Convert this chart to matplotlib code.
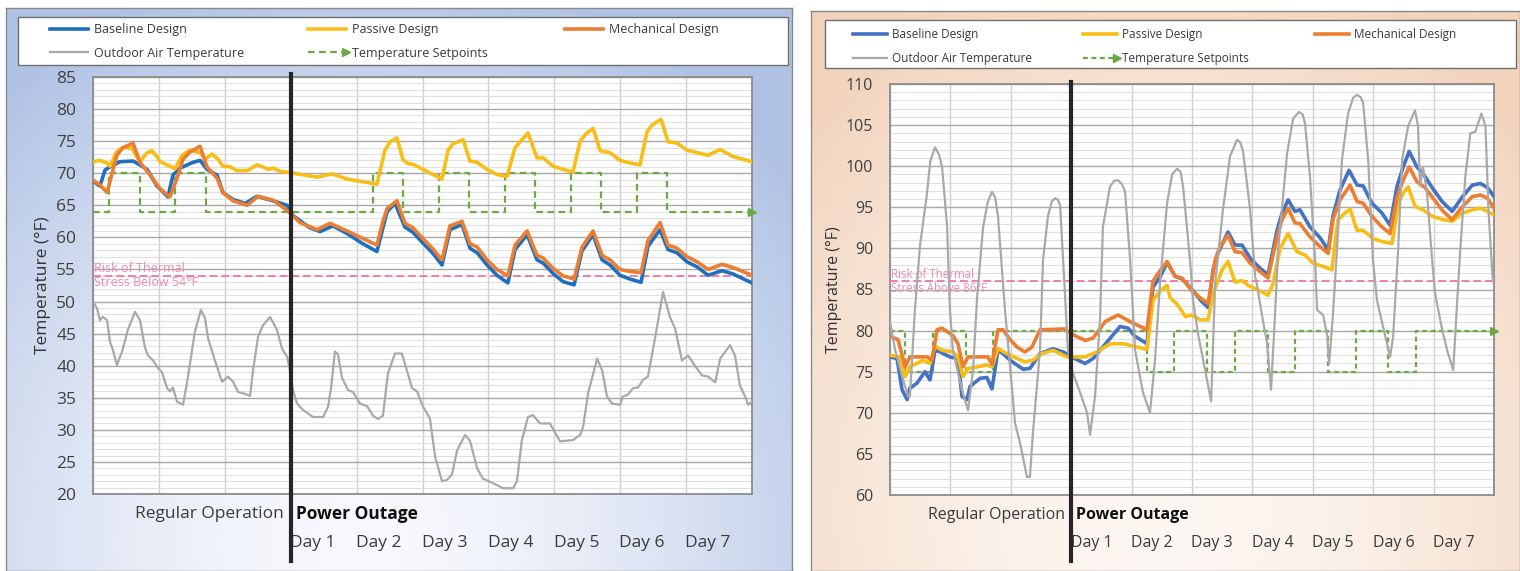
import numpy as np
import matplotlib.pyplot as plt
from matplotlib.patches import Rectangle
from matplotlib.legend_handler import HandlerLine2D

plt.rcParams['font.family'] = ['Open Sans', 'DejaVu Sans']

W, H = 1520, 571

DAY_LABELS = ["Day 1", "Day 2", "Day 3", "Day 4", "Day 5", "Day 6", "Day 7"]
SERIES_NAMES = ["Baseline Design", "Passive Design", "Mechanical Design",
                "Outdoor Air Temperature", "Temperature Setpoints"]

# setpoint schedule (hour where each step starts)
SETPOINT_HOURS = [0, 6, 17, 30, 41, 102, 113, 126, 137, 150, 161, 174, 185, 198, 209, 240]
WINTER_SETPOINT = [64, 70, 64, 70, 64, 70, 64, 70, 64, 70, 64, 70, 64, 70, 64, 64]
SUMMER_SETPOINT = [80, 75, 80, 75, 80, 75, 80, 75, 80, 75, 80, 75, 80, 75, 80, 80]

# ---- winter (left) ----
W_BASE_H = [0, 2.5, 4.4, 6.2, 9.8, 14.6, 17.1, 19.7, 23.3, 27.3, 29.1, 31.7, 36.4, 39.0, 41.5,
            45.2, 47.3, 51.0, 55.4, 59.7, 65.6, 70.7, 72.8, 79.0, 82.7, 87.4, 92.5, 98.3, 103.4,
            105.6, 107.1, 110.0, 113.6, 116.5, 120.2, 123.8, 127.1, 130.0, 134.4, 137.3, 139.9,
            143.5, 147.1, 151.1, 153.7, 158.1, 161.7, 163.9, 167.5, 171.2, 175.2, 178.1, 182.1,
            185.4, 188.3, 191.9, 195.6, 199.6, 202.1, 206.5, 209.4, 212.7, 216.3, 220.0, 224.0,
            229.1, 233.1, 240.0]
W_BASE_T = [68.8, 68.0, 70.5, 71.0, 71.8, 71.9, 71.3, 70.6, 68.0, 66.3, 69.7, 70.8, 71.7, 72.0, 70.6,
            69.7, 67.0, 65.9, 65.3, 66.4, 65.7, 65.0, 63.4, 61.5, 60.9, 61.8, 60.6, 59.0, 57.8,
            61.5, 64.0, 65.3, 61.6, 60.8, 59.1, 57.5, 55.7, 61.2, 62.0, 58.3, 57.6,
            55.7, 54.1, 52.9, 58.1, 60.4, 56.5, 56.0, 54.4, 53.1, 52.6, 57.9, 60.4,
            56.5, 55.7, 54.1, 53.5, 53.0, 58.6, 61.2, 58.1, 57.6, 56.2, 55.4, 54.1,
            54.8, 54.3, 52.9]

W_PASS_H = [0, 2.5, 5.1, 6.2, 8.7, 10.9, 14.2, 16.0, 17.1, 19.7, 21.5, 23.3, 24.4, 27.0, 29.9,
            32.4, 35.3, 39.0, 40.8, 43.3, 45.5, 47.3, 49.9, 52.4, 56.1, 59.7, 61.9, 63.7, 65.6,
            68.1, 71.7, 81.6, 87.0, 92.5, 103.4, 106.3, 108.2, 110.7, 112.9, 114.7, 116.5, 120.2,
            123.8, 127.1, 129.3, 131.1, 134.8, 137.3, 139.9, 143.5, 147.1, 150.8, 153.7, 156.2,
            158.4, 161.7, 163.9, 167.5, 171.2, 174.8, 177.4, 179.2, 182.1, 184.7, 188.3, 191.9,
            195.6, 199.2, 201.8, 203.6, 206.9, 209.4, 212.7, 216.3, 220.0, 224.0, 228.4, 233.1,
            240.0]
W_PASS_T = [71.8, 72.0, 71.6, 71.1, 73.4, 74.0, 73.9, 72.5, 71.8, 73.2, 73.5, 72.6, 71.8, 71.3, 70.7,
            72.8, 73.6, 73.2, 72.2, 73.0, 72.2, 71.1, 71.0, 70.4, 70.4, 71.3, 71.0, 70.6, 70.8,
            70.3, 70.1, 69.4, 69.9, 69.1, 68.3, 73.6, 74.9, 75.5, 72.1, 71.5, 71.4, 70.6,
            69.8, 69.1, 73.6, 74.6, 75.2, 71.9, 71.7, 70.6, 69.8, 69.5, 74.0, 75.2,
            76.3, 72.4, 72.4, 71.1, 70.6, 70.2, 75.0, 76.0, 77.0, 73.5, 73.2, 72.0,
            71.6, 71.3, 76.5, 77.5, 78.4, 74.9, 74.7, 73.6, 73.2, 72.8, 73.7, 72.6,
            71.8]

W_MECH_H = [0, 2.5, 5.1, 8.7, 10.9, 14.6, 17.1, 20.8, 24.4, 28.0, 30.6, 32.8, 35.3, 39.0, 41.5,
            45.2, 47.3, 51.0, 56.1, 60.1, 65.6, 70.7, 75.4, 81.6, 86.3, 92.5, 103.4, 105.6, 107.1,
            110.7, 113.6, 116.5, 120.2, 123.8, 127.1, 130.0, 134.4, 137.3, 139.9, 143.5, 147.1,
            151.1, 153.7, 158.1, 161.7, 163.9, 167.5, 171.2, 175.2, 178.1, 182.1, 185.4, 188.3,
            191.9, 195.6, 199.6, 202.1, 206.5, 209.4, 212.7, 216.3, 220.0, 224.0, 229.1, 233.1,
            240.0]
W_MECH_T = [68.9, 68.2, 67.0, 72.8, 74.0, 74.7, 71.7, 69.7, 67.6, 66.3, 69.2, 72.2, 73.3, 74.2, 71.0,
            69.2, 67.0, 65.7, 65.0, 66.4, 65.8, 64.2, 62.3, 61.2, 62.2, 61.0, 58.8, 62.5, 64.5,
            65.7, 62.2, 61.5, 59.8, 58.2, 56.5, 61.8, 62.5, 59.0, 58.5, 56.5, 55.0,
            54.0, 58.8, 61.0, 57.2, 56.8, 55.2, 54.0, 53.5, 58.5, 61.0, 57.2, 56.5,
            55.0, 54.7, 54.5, 59.5, 62.3, 58.8, 58.3, 57.0, 56.2, 55.0, 55.8, 55.3,
            54.1]

W_OUT_H = [0.4, 1.5, 2.5, 3.6, 5.1, 6.2, 7.3, 8.7, 10.6, 12.7, 15.3, 17.1, 18.9, 20.0, 21.9, 23.7,
           25.1, 27.0, 28.0, 29.1, 30.6, 32.8, 34.6, 37.1, 39.3, 40.8, 41.9, 44.4, 47.0, 49.2,
           51.0, 52.8, 55.4, 57.2, 58.3, 60.1, 61.9, 64.5, 67.0, 68.8, 70.7, 71.7, 72.8, 74.3,
           76.5, 80.1, 83.8, 85.6, 86.7, 88.1, 89.2, 90.7, 92.9, 94.7, 97.2, 99.8, 102.0, 103.8,
           105.6, 107.4, 110.0, 112.5, 116.2, 118.0, 120.2, 122.7, 124.6, 127.1, 128.9, 130.7,
           132.6, 135.5, 137.3, 139.9, 142.0, 144.6, 147.1, 149.3, 153.0, 154.4, 156.2, 158.4,
           160.2, 162.8, 166.4, 170.1, 174.8, 177.4, 178.5, 180.3, 183.6, 185.4, 187.2, 189.0,
           191.9, 193.0, 194.8, 196.7, 198.5, 200.3, 202.1, 204.7, 207.6, 210.1, 212.0, 214.5,
           216.7, 219.2, 221.8, 224.0, 226.6, 228.4, 232.0, 233.8, 235.6, 237.5, 238.6, 240.0]
W_OUT_T = [49.7, 48.9, 47.1, 47.6, 47.1, 43.7, 42.4, 40.1, 42.2, 45.6, 48.4, 47.1, 42.9, 41.6, 40.8, 39.6,
           39.0, 36.5, 36.0, 36.6, 34.4, 33.9, 38.3, 45.3, 48.7, 47.4, 44.3, 40.8, 37.5, 38.3,
           37.5, 35.9, 35.6, 35.3, 39.3, 44.5, 46.3, 47.6, 45.6, 42.7, 41.4, 39.3, 36.2, 34.1,
           33.1, 32.0, 32.0, 33.6, 36.5, 42.2, 41.8, 38.1, 36.2, 35.9, 34.1, 33.7, 32.2, 31.7,
           32.2, 38.8, 41.9, 41.9, 36.5, 36.0, 33.6, 31.8, 25.8, 22.0, 22.2, 23.0,
           26.8, 29.2, 28.3, 24.0, 22.4, 21.9, 21.4, 20.9, 20.9, 22.0, 28.4, 32.0,
           32.3, 31.0, 31.0, 28.2, 28.4, 29.2, 30.5, 35.7, 41.1, 39.3, 35.2, 34.1,
           33.9, 35.2, 35.5, 36.5, 36.6, 37.8, 38.3, 44.3, 51.5, 47.6, 45.8, 40.8,
           41.6, 40.0, 38.5, 38.3, 37.4, 41.1, 43.2, 41.6, 36.9, 35.2, 33.9, 34.4]

# ---- summer (right) ----
S_BASE_H = [0, 2.8, 4.8, 6.8, 7.9, 10.7, 13.9, 15.9, 17.9, 19.9, 23.8, 27.0, 28.6, 30.6, 31.8,
            35.8, 38.5, 40.5, 42.9, 44.9, 47.7, 50.5, 52.9, 55.6, 59.6, 64.8, 68.8, 72.7, 77.5,
            80.7, 86.2, 91.4, 94.6, 97.4, 102.1, 104.5, 107.3, 110.1, 113.3, 116.0, 120.0, 124.0,
            126.4, 128.4, 130.3, 134.3, 137.1, 139.9, 143.1, 147.0, 150.2, 153.8, 155.8, 158.2,
            160.9, 162.9, 166.9, 170.9, 174.1, 176.0, 178.8, 182.4, 185.6, 188.0, 191.5, 195.5,
            198.7, 201.5, 203.9, 206.3, 209.4, 211.8, 215.4, 219.4, 223.4, 227.5, 231.4, 234.6,
            237.4, 240.0]
S_BASE_T = [76.8, 76.6, 72.8, 71.6, 73.0, 73.6, 75.0, 74.0, 77.6, 77.4, 76.8, 76.6, 72.0, 71.6, 73.2,
            74.2, 74.3, 72.9, 77.6, 77.2, 76.4, 75.8, 75.3, 75.4, 77.2, 77.8, 77.4, 76.7, 76.0,
            76.6, 78.6, 80.5, 80.3, 79.3, 78.4, 85.3, 86.5, 88.3, 86.6, 86.3, 85.0, 83.5,
            82.8, 87.4, 89.4, 92.0, 90.4, 90.4, 88.8, 87.6, 86.8, 92.2, 94.3, 95.9,
            94.5, 94.7, 92.6, 91.3, 89.8, 93.9, 97.1, 99.5, 97.7, 97.6, 95.5, 94.3,
            92.8, 97.6, 99.9, 101.8, 99.9, 99.1, 97.4, 95.7, 94.5, 96.3, 97.7, 97.9,
            97.4, 96.3]

S_PASS_H = [0, 4.0, 6.0, 7.9, 13.1, 15.9, 17.9, 20.7, 25.0, 27.0, 29.0, 31.0, 38.5, 40.5, 42.9,
            46.5, 50.5, 53.6, 56.8, 60.4, 64.8, 70.3, 77.5, 82.3, 87.4, 92.6, 98.2, 102.1, 104.5,
            107.3, 110.1, 111.3, 114.1, 117.4, 120.0, 123.2, 126.4, 128.4, 132.0, 134.3, 137.1,
            139.9, 142.3, 145.1, 147.8, 150.2, 152.2, 155.0, 158.2, 161.7, 164.9, 168.1, 172.1,
            175.6, 178.0, 180.8, 182.8, 185.6, 188.0, 191.9, 195.9, 199.5, 201.9, 203.9, 205.9,
            208.6, 211.8, 215.4, 219.8, 223.4, 227.5, 231.4, 234.6, 237.4, 240.0]
S_PASS_T = [77.0, 76.8, 74.4, 75.6, 76.4, 76.0, 78.1, 77.6, 77.4, 76.8, 74.4, 75.4, 75.8, 75.6, 77.8,
            77.2, 76.6, 76.2, 76.4, 77.2, 77.6, 76.8, 76.8, 77.4, 78.4, 78.4, 78.0, 77.7, 83.7,
            84.8, 85.5, 84.0, 83.2, 81.7, 81.9, 81.3, 81.3, 84.5, 87.4, 88.4, 85.9,
            86.1, 85.5, 85.1, 84.7, 84.3, 85.7, 90.0, 91.8, 89.6, 89.2, 88.2, 87.8,
            87.4, 93.5, 94.3, 94.8, 92.2, 92.2, 91.2, 90.8, 90.6, 95.5, 96.7, 97.5,
            95.1, 94.7, 93.9, 93.5, 93.3, 94.3, 94.7, 94.9, 94.5, 94.1]

S_MECH_H = [0, 3.2, 6.0, 7.9, 14.7, 16.7, 18.7, 20.7, 25.0, 27.0, 29.0, 31.0, 38.9, 40.5, 42.9,
            44.9, 47.7, 50.5, 53.6, 56.4, 59.6, 69.5, 72.7, 77.5, 80.7, 85.5, 90.6, 95.4, 102.1,
            104.5, 107.3, 110.1, 113.3, 116.0, 120.0, 123.2, 126.4, 129.2, 131.1, 134.3, 137.1,
            139.9, 143.1, 147.0, 150.2, 153.8, 155.8, 158.2, 160.9, 162.9, 166.9, 170.9, 174.1,
            176.0, 178.8, 182.8, 185.6, 188.0, 191.5, 195.5, 198.7, 201.5, 203.9, 206.3, 209.4,
            212.6, 215.8, 219.8, 223.4, 227.5, 231.4, 234.6, 237.4, 240.0]
S_MECH_T = [79.3, 78.9, 75.6, 76.8, 76.8, 76.4, 80.1, 80.3, 79.4, 78.4, 75.6, 76.8, 76.8, 75.9, 80.1,
            80.1, 78.9, 78.0, 77.4, 78.0, 80.1, 80.2, 79.5, 78.8, 79.1, 81.1, 81.9, 81.1, 80.1,
            86.0, 87.3, 88.4, 86.6, 86.4, 84.8, 84.0, 83.3, 88.6, 90.2, 91.6, 89.6,
            89.5, 88.2, 87.2, 86.4, 91.4, 93.5, 94.9, 93.1, 93.0, 91.4, 90.2, 89.4,
            93.5, 95.9, 97.7, 95.7, 95.5, 93.9, 92.6, 91.8, 96.3, 98.3, 99.9, 98.1,
            97.4, 96.1, 94.5, 93.5, 95.1, 96.3, 96.5, 96.1, 94.9]

S_OUT_H = [0, 2.0, 5.2, 7.2, 7.9, 9.9, 11.9, 14.7, 16.0, 17.9, 19.5, 20.7, 22.7, 23.8, 25.0, 28.6,
           31.0, 33.0, 34.6, 37.0, 38.8, 40.5, 41.8, 42.9, 45.7, 47.7, 49.7, 51.7, 54.4, 55.6,
           56.8, 59.6, 60.8, 62.8, 64.3, 65.6, 66.8, 67.6, 69.5, 70.7, 72.7, 75.5, 78.3, 79.5,
           81.5, 83.5, 84.6, 87.4, 89.0, 90.6, 92.2, 93.4, 95.4, 97.4, 100.5, 103.3, 105.3, 107.3,
           110.1, 112.1, 114.1, 115.5, 116.5, 119.2, 120.4, 122.4, 125.2, 127.6, 129.2, 132.3,
           135.1, 137.9, 139.2, 140.3, 143.1, 145.1, 145.9, 147.8, 149.8, 151.4, 153.0, 154.2,
           157.8, 160.2, 162.5, 164.0, 164.9, 166.9, 168.9, 169.7, 172.1, 173.7, 174.5, 176.0,
           177.6, 179.6, 182.0, 184.0, 185.6, 187.0, 188.0, 190.0, 191.9, 193.5, 195.9, 198.7,
           199.9, 201.9, 203.5, 205.9, 208.6, 209.8, 210.6, 211.8, 213.4, 215.4, 216.6, 219.4,
           221.4, 223.8, 225.4, 226.6, 228.6, 230.6, 232.6, 235.0, 236.6, 237.8, 239.4, 240.0]
S_OUT_T = [81.1, 77.7, 74.0, 72.0, 72.0, 82.5, 90.3, 96.7, 100.6, 102.3, 101.4, 99.9, 92.6, 82.5, 77.6,
           72.8, 70.3, 75.2, 84.0, 92.6, 95.6, 96.9, 96.2, 93.9, 82.5, 75.6, 68.7, 66.3, 62.2,
           62.2, 67.6, 77.6, 88.6, 94.0, 95.7, 96.1, 95.9, 95.2, 84.6, 77.6, 74.8, 72.5, 70.0,
           67.3, 72.1, 81.7, 92.6, 97.5, 98.2, 98.3, 97.8, 96.9, 88.6, 77.6, 72.5, 70.0, 76.4,
           85.8, 95.5, 99.0, 99.7, 99.3, 97.4, 88.6, 83.7, 79.6, 75.2, 71.4, 85.8, 94.7,
           101.2, 103.2, 102.9, 101.8, 94.7, 86.6, 85.4, 81.9, 78.5, 72.8, 82.0, 89.8,
           101.6, 105.8, 106.6, 106.3, 105.2, 98.7, 88.6, 82.5, 81.9, 79.4, 76.0, 81.9,
           89.8, 100.8, 106.4, 108.3, 108.7, 108.4, 107.7, 100.8, 88.6, 83.7, 80.5, 76.8,
           79.2, 89.8, 100.8, 104.9, 106.8, 104.9, 97.6, 99.9, 96.7, 88.6, 84.5, 80.1,
           77.6, 75.2, 83.7, 89.8, 98.7, 104.0, 104.2, 106.4, 104.9, 94.7, 86.6, 85.5]

fig = plt.figure(figsize=(W / 100, H / 100), dpi=100)


def fr(x, y, w, h):
    # pixel box (top-left origin) -> figure fraction rect
    return [x / W, 1 - (y + h) / H, w / W, h / H]


def backdrop(rect, centre, edge, cx, cy):
    ax = fig.add_axes(rect, zorder=-10)
    yy, xx = np.mgrid[0:1:240j, 0:1:320j]
    r = np.clip(np.hypot((xx - cx) / 0.7, (yy - cy) / 1.05), 0, 1) ** 1.6
    c0 = np.array(centre) / 255
    c1 = np.array(edge) / 255
    img = c0 * (1 - r[..., None]) + c1 * r[..., None]
    ax.imshow(img, extent=[0, 1, 0, 1], origin='lower', aspect='auto')
    ax.set_xticks([])
    ax.set_yticks([])
    for s in ax.spines.values():
        s.set_color('#8a8a8a')
        s.set_linewidth(1)


def legend_box(x, y, w, h):
    fig.add_artist(Rectangle((x / W, 1 - (y + h) / H), w / W, h / H, transform=fig.transFigure,
                             facecolor='white', edgecolor='#6f6f6f', lw=1.0, zorder=-5))


class EndArrow(HandlerLine2D):
    def create_artists(self, *args, **kwargs):
        arts = super().create_artists(*args, **kwargs)
        arts[0].set_markevery([-1])
        return arts


def panel(rect, ylim, base, passive, mech, outdoor, setpoint, risk, risk_text,
          blue, fs, small_fs, sp_dash, ylabel_pad):
    ax = fig.add_axes(rect)
    ax.set_facecolor('white')
    ax.set_xlim(0, 240)
    ax.set_ylim(*ylim)
    ax.set_xticks(np.arange(0, 241, 24))
    ax.set_yticks(np.arange(ylim[0], ylim[1] + 1, 5))
    ax.set_yticks(np.arange(ylim[0], ylim[1] + 1, 1), minor=True)
    ax.grid(axis='y', which='minor', color='#e0e0e0', lw=0.8)
    ax.grid(axis='y', which='major', color='#a8a8a8', lw=1.0)
    ax.grid(axis='x', which='major', color='#cfcfcf', lw=1.0)
    ax.set_axisbelow(True)
    ax.tick_params(which='both', length=0)
    ax.tick_params(axis='y', labelsize=fs, labelcolor='#404040', pad=12)
    ax.set_xticklabels([])
    for s in ax.spines.values():
        s.set_color('#8c8c8c')
        s.set_linewidth(1.3)
    ax.set_ylabel("Temperature (°F)", fontsize=fs, color='#333333', labelpad=ylabel_pad)

    sp, = ax.step(SETPOINT_HOURS, setpoint, where='post', color='#6aaa45', lw=1.6,
                  ls=sp_dash, marker='>', markevery=[-1], markersize=6, clip_on=False, zorder=3)
    ax.axhline(risk, color='#f07fa6', lw=1.4, ls=(0, (4, 2)), zorder=3)
    ax.text(0.5, risk, risk_text, color='#f08cab', fontsize=small_fs, ha='left', va='center',
            linespacing=1.1, zorder=4)
    lb, = ax.plot(*base, color=blue, lw=2.6, zorder=4, solid_joinstyle='round')
    lp, = ax.plot(*passive, color='#f8be16', lw=2.6, zorder=4, solid_joinstyle='round')
    lm, = ax.plot(*mech, color='#ed7d31', lw=2.6, zorder=4, solid_joinstyle='round')
    lo, = ax.plot(*outdoor, color='#a9a9a9', lw=1.6, zorder=5, solid_joinstyle='round')
    ax.axvline(72, ymin=-0.16, ymax=1.006, color='#262626', lw=3, clip_on=False, zorder=6)

    tr = ax.get_xaxis_transform()
    ax.text(69.5, -0.048, "Regular Operation", transform=tr, ha='right', va='center',
            fontsize=fs, color='#3a3a3a')
    ax.text(73.8, -0.048, "Power Outage", transform=tr, ha='left', va='center',
            fontsize=fs, fontweight='bold', color='#111111')
    for i, lab in enumerate(DAY_LABELS):
        ax.text(80 + 24 * i, -0.117, lab, transform=tr, ha='center', va='center',
                fontsize=fs, color='#3a3a3a')
    return [lb, lo, lp, sp, lm]


def legend(handles, col_x, top, fs, hl, pad, spacing):
    labels = [SERIES_NAMES[0], SERIES_NAMES[3], SERIES_NAMES[1], SERIES_NAMES[4], SERIES_NAMES[2]]
    groups = [[0, 1], [2, 3], [4]]
    for x, g in zip(col_x, groups):
        fig.legend([handles[i] for i in g], [labels[i] for i in g], loc='upper left',
                   bbox_to_anchor=(x / W, 1 - top / H), frameon=False, borderpad=0,
                   borderaxespad=0, fontsize=fs, handlelength=hl, handletextpad=pad,
                   labelspacing=spacing, labelcolor='#3a3a3a',
                   handler_map={handles[3]: EndArrow()})


backdrop(fr(6, 8, 786, 563), (248, 249, 253), (176, 194, 228), 0.45, 0.05)
backdrop(fr(811, 11, 709, 560), (253, 247, 242), (242, 211, 188), 0.5, 0.1)
legend_box(18, 17, 770, 48)
legend_box(825, 20, 691, 48)

left = panel(fr(93, 77, 659, 417), (20, 85),
             (W_BASE_H, W_BASE_T), (W_PASS_H, W_PASS_T), (W_MECH_H, W_MECH_T),
             (W_OUT_H, W_OUT_T), WINTER_SETPOINT, 54,
             "Risk of Thermal\nStress Below 54°F", '#1f6fc0', 12.5, 9, (0, (3, 2)), 4)
right = panel(fr(890, 84, 604, 411), (60, 110),
              (S_BASE_H, S_BASE_T), (S_PASS_H, S_PASS_T), (S_MECH_H, S_MECH_T),
              (S_OUT_H, S_OUT_T), SUMMER_SETPOINT, 86,
              "Risk of Thermal\nStress Above 86°F", '#4472c4', 11.5, 8.3, (0, (2.2, 1.6)), 3)

legend(left, [50, 308, 565], 23, 9, 3.0, 0.5, 0.86)
legend(right, [853, 1083, 1315], 28, 8.5, 2.9, 0.4, 0.96)

fig.savefig("out.png", dpi=100)
